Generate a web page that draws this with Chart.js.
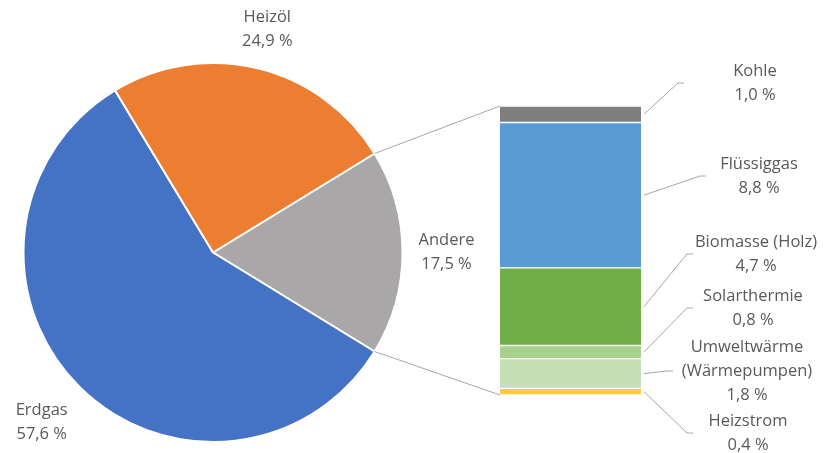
<!DOCTYPE html>
<html>
<head>
<meta charset="utf-8">
<script src="https://cdn.jsdelivr.net/npm/chart.js@4.4.1/dist/chart.umd.min.js"></script>
<style>
    body { margin: 0; background: #fff; }
    #wrap { position: relative; width: 823px; height: 453px; }
    #wrap canvas { position: absolute; left: 0; top: 0; }
</style>
</head>
<body>
<div id="wrap">
    <canvas id="pieChart" width="823" height="453"></canvas>
    <canvas id="barChart" width="823" height="453"></canvas>
</div>
<script>
// Pie: Andere first so it can be centred on the right side
const pieLabels = ['Andere', 'Erdgas', 'Heizöl'];
const pieValues = [17.5, 57.6, 24.9];
const pieColors = ['#A9A7A7', '#4472C4', '#ED7D31'];

// Stacked bar (breakdown of "Andere"), bottom to top
const barLabels = [['Heizstrom'], ['Umweltwärme', '(Wärmepumpen)'], ['Solarthermie'], ['Biomasse (Holz)'], ['Flüssiggas'], ['Kohle']];
const barValues = [0.4, 1.8, 0.8, 4.7, 8.8, 1.0];
const barColors = ['#FFCB3D', '#C5E0B4', '#A9D18E', '#70AD47', '#5B9BD5', '#7F7F7F'];

const fmt = v => v.toFixed(1).replace('.', ',') + ' %';
const FONT = '16.5px "Open Sans", "Noto Sans", sans-serif';
const TEXT = '#595959';

const pieTotal = pieValues.reduce((a, b) => a + b, 0);
const barTotal = barValues.reduce((a, b) => a + b, 0);

function drawLines(ctx, lines, x, y, lh) {
    const start = y - (lines.length - 1) * lh / 2;
    lines.forEach((t, i) => ctx.fillText(t, x, start + i * lh));
}

const pieLabelPlugin = {
    id: 'pieLabels',
    afterDraw(chart, args, opts) {
        const ctx = chart.ctx;
        const meta = chart.getDatasetMeta(0);
        ctx.save();
        ctx.font = FONT;
        ctx.fillStyle = TEXT;
        ctx.textAlign = 'center';
        ctx.textBaseline = 'middle';
        meta.data.forEach((arc, i) => {
            const mid = (arc.startAngle + arc.endAngle) / 2;
            const d = arc.outerRadius + opts.offset[i];
            const x = arc.x + Math.cos(mid) * d;
            const y = arc.y + Math.sin(mid) * d;
            drawLines(ctx, [pieLabels[i], fmt(pieValues[i])], x, y, 24);
        });
        ctx.restore();
    }
};

const pieChart = new Chart(document.getElementById('pieChart'), {
    type: 'pie',
    data: {
        labels: pieLabels,
        datasets: [{
            data: pieValues,
            backgroundColor: pieColors,
            borderColor: '#fff',
            borderWidth: 2
        }]
    },
    options: {
        responsive: false,
        animation: false,
        devicePixelRatio: 1,
        rotation: 90 - (pieValues[0] / pieTotal * 360) / 2,
        layout: { padding: { left: 22, top: 62, right: 419, bottom: 10 } },
        plugins: {
            legend: { display: false },
            tooltip: { enabled: false },
            pieLabels: { offset: [44, 52, 40] }
        }
    },
    plugins: [pieLabelPlugin]
});

const barLabelPlugin = {
    id: 'barLabels',
    afterDraw(chart, args, opts) {
        const ctx = chart.ctx;
        ctx.save();
        ctx.strokeStyle = '#A6A6A6';
        ctx.lineWidth = 1;

        // connector lines pie -> bar
        const arc = pieChart.getDatasetMeta(0).data[0];
        const topBar = chart.getDatasetMeta(barValues.length - 1).data[0];
        const botBar = chart.getDatasetMeta(0).data[0];
        const left = topBar.x - topBar.width / 2;
        ctx.beginPath();
        ctx.moveTo(arc.x + Math.cos(arc.startAngle) * arc.outerRadius, arc.y + Math.sin(arc.startAngle) * arc.outerRadius);
        ctx.lineTo(left, topBar.y);
        ctx.moveTo(arc.x + Math.cos(arc.endAngle) * arc.outerRadius, arc.y + Math.sin(arc.endAngle) * arc.outerRadius);
        ctx.lineTo(left, botBar.base);
        ctx.stroke();

        // segment labels with leader lines
        ctx.font = FONT;
        ctx.fillStyle = TEXT;
        ctx.textAlign = 'center';
        ctx.textBaseline = 'middle';
        barValues.forEach((v, i) => {
            const bar = chart.getDatasetMeta(i).data[0];
            const right = bar.x + bar.width / 2 + 3;
            const midY = (bar.y + bar.base) / 2;
            const ly = opts.labelY[i];
            const ex = opts.lineEndX[i];
            ctx.beginPath();
            ctx.moveTo(right, midY);
            ctx.lineTo(ex - 6, ly);
            ctx.lineTo(ex, ly);
            ctx.stroke();
            drawLines(ctx, barLabels[i].concat([fmt(v)]), opts.labelX[i], ly, 24);
        });
        ctx.restore();
    }
};

new Chart(document.getElementById('barChart'), {
    type: 'bar',
    data: {
        labels: ['Andere'],
        datasets: barValues.map((v, i) => ({
            label: barLabels[i].join(' '),
            data: [v],
            backgroundColor: barColors[i],
            borderColor: '#fff',
            borderWidth: { top: 1, bottom: 1, left: 0, right: 0 },
            borderSkipped: false,
            barPercentage: 1,
            categoryPercentage: 1
        }))
    },
    options: {
        responsive: false,
        animation: false,
        devicePixelRatio: 1,
        layout: { padding: { left: 500, right: 182, top: 106, bottom: 58 } },
        scales: {
            x: { display: false, stacked: true },
            y: { display: false, stacked: true, min: 0, max: barTotal }
        },
        plugins: {
            legend: { display: false },
            tooltip: { enabled: false },
            barLabels: {
                labelX: [748, 747, 753, 756, 759, 755],
                labelY: [433, 371, 308, 254, 176, 83],
                lineEndX: [693, 673, 693, 693, 706, 684]
            }
        }
    },
    plugins: [barLabelPlugin]
});
</script>
</body>
</html>
